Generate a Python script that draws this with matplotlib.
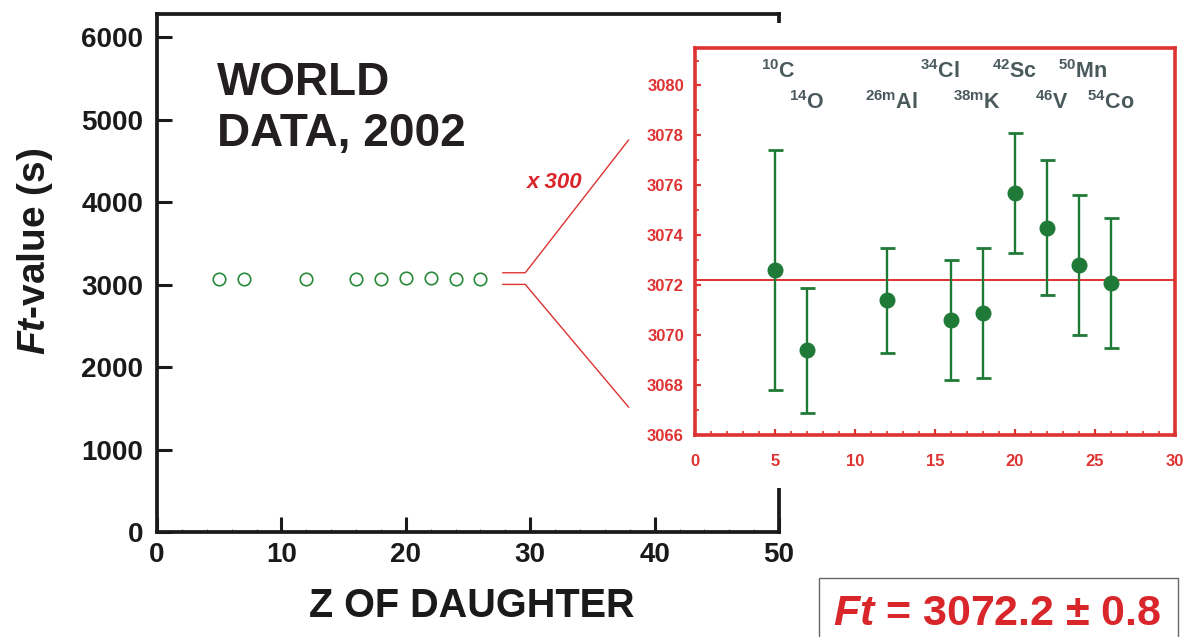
import matplotlib
matplotlib.use("Agg")
import matplotlib.pyplot as plt
from matplotlib.patches import Rectangle
from matplotlib.ticker import MultipleLocator
from matplotlib.transforms import blended_transform_factory

plt.rcParams["font.family"] = ["Liberation Sans", "DejaVu Sans"]
plt.rcParams["mathtext.fontset"] = "custom"
plt.rcParams["mathtext.rm"] = "Liberation Sans:bold"
plt.rcParams["mathtext.it"] = "Liberation Sans:italic:bold"
plt.rcParams["mathtext.bf"] = "Liberation Sans:bold"

# Superallowed 0+ -> 0+ beta emitters, world data 2002
nuclide_labels = [r"$^{10}$C", r"$^{14}$O", r"$^{26\mathrm{m}}$Al", r"$^{34}$Cl",
                  r"$^{38\mathrm{m}}$K", r"$^{42}$Sc", r"$^{46}$V", r"$^{50}$Mn",
                  r"$^{54}$Co"]
z_daughter = [5, 7, 12, 16, 18, 20, 22, 24, 26]
ft_values = [3072.6, 3069.4, 3071.4, 3070.6, 3070.9, 3075.7, 3074.3, 3072.8, 3072.1]
ft_errors = [4.8, 2.5, 2.1, 2.4, 2.6, 2.4, 2.7, 2.8, 2.6]
ft_mean = 3072.2
ft_mean_err = 0.8

# label placement: row (0 = upper, 1 = lower) and small horizontal nudge
label_row = [0, 1, 1, 0, 1, 0, 1, 0, 1]
label_dx = [0.2, 0.0, 0.3, -0.7, -0.4, 0.0, 0.3, 0.25, 0.0]

RED = "#dd3333"
TXT_RED = "#d8262b"
GREEN = "#1f7a37"
DARK = "#1a1a1a"
SLATE = "#4a5a5c"

fig = plt.figure(figsize=(11.84, 6.37), dpi=100)

# ---- main panel -------------------------------------------------------
ax = fig.add_axes([0.1326, 0.1648, 0.5254, 0.8132])
ax.plot(z_daughter, ft_values, "o", mfc="none", mec="#2a8a3a", ms=9, mew=1.2)
ax.set_xlim(0, 50)
ax.set_ylim(0, 6280)
ax.xaxis.set_major_locator(MultipleLocator(10))
ax.xaxis.set_minor_locator(MultipleLocator(2))
ax.yaxis.set_major_locator(MultipleLocator(1000))
for s in ax.spines.values():
    s.set_linewidth(2.7)
    s.set_color(DARK)
ax.tick_params(axis="x", which="major", direction="in", length=11, width=2.2,
               top=False, pad=7, labelsize=20, colors=DARK)
ax.tick_params(axis="x", which="minor", direction="in", length=2.5, width=0.8,
               top=False, color="#777777")
ax.tick_params(axis="y", which="major", direction="in", length=11, width=2.2,
               right=False, pad=10, labelsize=20, colors=DARK)
for lab in ax.get_xticklabels() + ax.get_yticklabels():
    lab.set_fontweight("bold")

ax.text(4.8, 5297, "WORLD", fontsize=33, fontweight="bold", color="#231f20",
        va="baseline", ha="left")
ax.text(4.8, 4679, "DATA, 2002", fontsize=33, fontweight="bold", color="#231f20",
        va="baseline", ha="left")
ax.text(32.0, 4240, "x 300", fontsize=16, fontweight="bold", fontstyle="italic",
        color=TXT_RED, ha="center", va="center")

# zoom bracket leading to the magnified panel
ax.plot([27.8, 29.6, 37.9], [3143, 3143, 4752], color=RED, lw=1, clip_on=False)
ax.plot([27.8, 29.6, 37.9], [3002, 3002, 1515], color=RED, lw=1, clip_on=False)

fig.text(35 / 1184, 0.606, r"$\mathit{Ft}$-value (s)", rotation=90, fontsize=28,
         fontweight="bold", color=DARK, ha="center", va="center")
fig.text(472 / 1184, 1 - 606 / 637, "Z OF DAUGHTER", fontsize=28.5,
         fontweight="bold", color=DARK, ha="center", va="center")

# white backing for the magnified panel and its tick labels
fig.add_artist(Rectangle((0.5405, 0.234), 0.4595, 0.730, transform=fig.transFigure,
                         facecolor="white", edgecolor="none", zorder=2))

# ---- magnified panel ----------------------------------------------------
axin = fig.add_axes([0.587, 0.3171, 0.4054, 0.6075])
axin.set_zorder(3)
axin.errorbar(z_daughter, ft_values, yerr=ft_errors, fmt="o", color=GREEN,
              ecolor=GREEN, ms=10.5, elinewidth=1.7, capsize=5.4, capthick=2)
axin.axhline(ft_mean, color=RED, lw=1.4, zorder=1)
axin.set_xlim(0, 30)
axin.set_ylim(3066, 3081.5)
axin.xaxis.set_major_locator(MultipleLocator(5))
axin.xaxis.set_minor_locator(MultipleLocator(1))
axin.yaxis.set_major_locator(MultipleLocator(2))
axin.yaxis.set_minor_locator(MultipleLocator(1))
for s in axin.spines.values():
    s.set_linewidth(2.6)
    s.set_color(RED)
axin.tick_params(which="both", direction="in", color=RED, labelcolor=RED,
                 labelsize=12, top=False, right=False)
axin.tick_params(which="major", length=4.5, width=1.6)
axin.tick_params(which="minor", length=3, width=1.2)
axin.tick_params(axis="x", which="major", pad=14)
axin.tick_params(axis="y", which="major", pad=8)
for lab in axin.get_xticklabels() + axin.get_yticklabels():
    lab.set_fontweight("bold")

trans = blended_transform_factory(axin.transData, axin.transAxes)
row_y = [0.938, 0.860]
for z, lab, r, dx in zip(z_daughter, nuclide_labels, label_row, label_dx):
    axin.text(z + dx, row_y[r], lab, transform=trans, fontsize=15.5,
              fontweight="bold", color=SLATE, ha="center", va="center")

# ---- result box ---------------------------------------------------------
fig.add_artist(Rectangle((0.6917, -0.01), 0.3032, 0.1026, transform=fig.transFigure,
                         facecolor="white", edgecolor="#666666", lw=1, zorder=2))
fig.text(0.8421, 0.0188, rf"$\mathit{{Ft}}$ = {ft_mean:.1f} ± {ft_mean_err:.1f}",
         fontsize=31, fontweight="bold", color=TXT_RED, ha="center",
         va="baseline", zorder=4)

fig.savefig("out.png", dpi=100)
